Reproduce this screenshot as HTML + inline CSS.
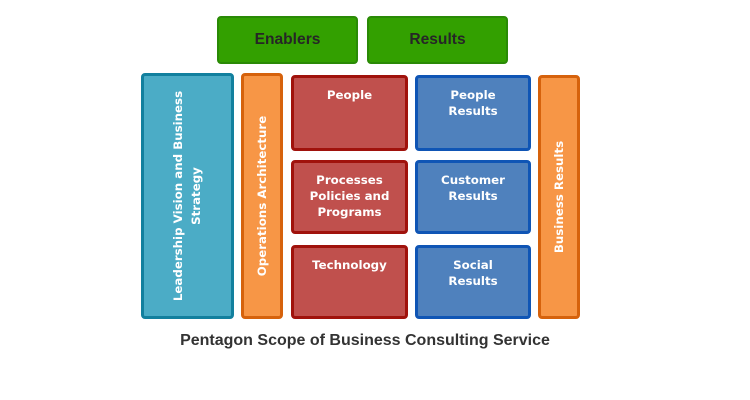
<!DOCTYPE html>
<html><head><meta charset="utf-8"><style>
html,body{margin:0;padding:0;background:#fff;width:750px;height:400px;overflow:hidden;}
.b{position:absolute;box-sizing:border-box;border-radius:4px;}
.g{background:#33a000;border:2px solid #2a8a06;font:bold 15.6px "Liberation Sans",sans-serif;color:#262626;text-align:center;line-height:44px;}
.r{background:#c0504d;border:3px solid #a0120c;}
.bl{background:#4f81bd;border:3px solid #0f55b5;}
.t{font:bold 11.8px "DejaVu Sans",sans-serif;color:#fff;text-align:center;line-height:16px;padding-top:8.5px;}
.lb{background:#4bacc6;border:3px solid #12809e;}
.o{background:#f79646;border:3px solid #d6620c;}
.v{position:absolute;font:bold 11.8px "DejaVu Sans",sans-serif;color:#fff;text-align:center;line-height:18px;transform:rotate(-90deg);transform-origin:center center;white-space:nowrap;}
.cap{position:absolute;left:0;width:730px;top:331px;text-align:center;font:bold 16px "Liberation Sans",sans-serif;color:#333;line-height:20px;}
</style></head><body>
<div class="b g" style="left:217px;top:16px;width:141px;height:48px;">Enablers</div>
<div class="b g" style="left:367px;top:16px;width:141px;height:48px;">Results</div>

<div class="b lb" style="left:141px;top:73px;width:93px;height:246px;"></div>
<div class="v" style="left:64px;top:178px;width:246px;height:36px;">Leadership Vision and Business<br>Strategy</div>

<div class="b o" style="left:241px;top:73px;width:42px;height:246px;"></div>
<div class="v" style="left:139px;top:187px;width:246px;height:18px;">Operations Architecture</div>

<div class="b r t" style="left:291px;top:75px;width:117px;height:76px;">People</div>
<div class="b r t" style="left:291px;top:160px;width:117px;height:74px;">Processes<br>Policies and<br>Programs</div>
<div class="b r t" style="left:291px;top:245px;width:117px;height:74px;">Technology</div>

<div class="b bl t" style="left:415px;top:75px;width:116px;height:76px;">People<br>Results</div>
<div class="b bl t" style="left:415px;top:160px;width:116px;height:74px;">Customer<br>Results</div>
<div class="b bl t" style="left:415px;top:245px;width:116px;height:74px;">Social<br>Results</div>

<div class="b o" style="left:538px;top:75px;width:42px;height:244px;"></div>
<div class="v" style="left:437px;top:188px;width:244px;height:18px;">Business Results</div>

<div class="cap">Pentagon Scope of Business Consulting Service</div>
</body></html>
